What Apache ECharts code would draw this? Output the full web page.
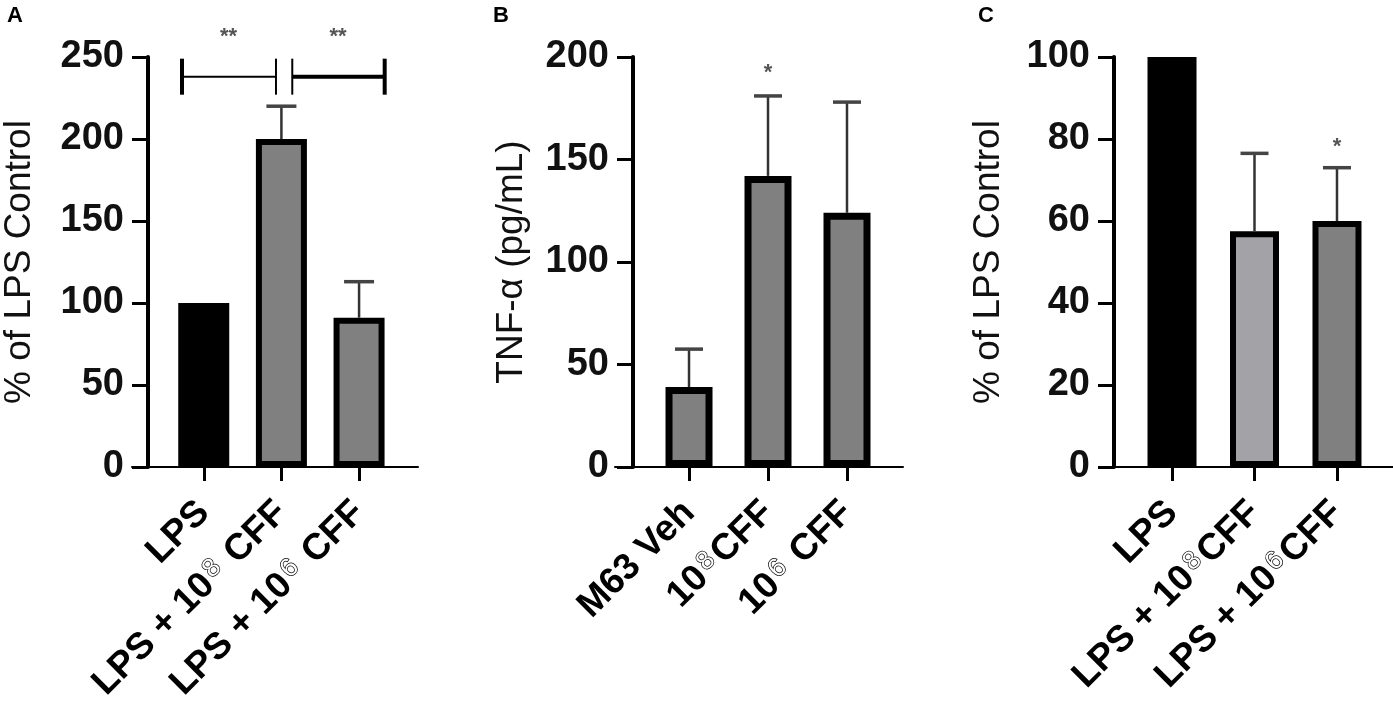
<!DOCTYPE html>
<html>
<head>
<meta charset="utf-8">
<script src="https://cdn.jsdelivr.net/npm/echarts@6/dist/echarts.min.js"></script>
<style>
html,body{margin:0;padding:0;background:#fff;}
#divChart{width:1393px;height:711px;}
</style>
</head>
<body>
<div id="divChart"></div>
<script>
// A: % of LPS control
var catsA = ['LPS', 'LPS + 10^8 CFF', 'LPS + 10^6 CFF'];
var meanA = [100, 200, 91];
var semA = [0, 20, 22];
// B: TNF-alpha
var catsB = ['M63 Veh', '10^8CFF', '10^6 CFF'];
var meanB = [39, 142, 124];
var semB = [18.5, 39, 54];
// C: % of LPS control
var catsC = ['LPS', 'LPS + 10^8CFF', 'LPS + 10^6CFF'];
var meanC = [100, 57.5, 60];
var semC = [0, 19, 13];

// significance brackets [from, to, level] and stars [x, level, text]
var bracketsA = [[-0.28, 0.93, 238], [1.14, 2.33, 238]];
var starsA = [[0.32, 262, '**'], [1.73, 262, '**']];
var starsB = [[1, 192, '*']];
var starsC = [[2, 78, '*']];

var fillA = ['#000000', '#808080', '#808080'];
var fillB = ['#808080', '#808080', '#808080'];
var fillC = ['#000000', '#a3a3a7', '#808080'];

var FONT = 'Liberation Sans, Arial, sans-serif';

/** 上标转换，例：'10^8CFF' */
function richLabel(s){
	var m = s.match(/^(.*)\^(\d)(.*)$/);
	if(!m) return '{n|' + s + '}';
	return '{n|' + m[1] + '}{s|' + m[2] + '}{n|' + m[3] + '}';
}

function xAxisOf(idx, cats, min, max){
	return {
		type: 'value', gridIndex: idx, min: min, max: max,
		splitLine: {show: false},
		axisLine: {onZero: false, lineStyle: {color: '#000', width: 2}},
		axisTick: {customValues: [0, 1, 2], length: 14, lineStyle: {color: '#000', width: 3}},
		axisLabel: {
			customValues: [0, 1, 2], rotate: 45, margin: 40,
			formatter: function(v){ return richLabel(cats[Math.round(v)]); },
			rich: {
				n: {fontSize: 37, fontWeight: 'bold', color: '#000', fontFamily: FONT},
				s: {fontSize: 26, color: '#fff', textBorderColor: '#000', textBorderWidth: 1.4,
					fontFamily: FONT, verticalAlign: 'top', padding: [0, 3, 0, 3]}
			}
		}
	};
}

function yAxisOf(idx, name, max, interval, offset, gap){
	return {
		type: 'value', gridIndex: idx, min: 0, max: max, interval: interval, offset: offset,
		name: name, nameLocation: 'middle', nameGap: gap,
		nameTextStyle: {fontSize: 37, color: '#111', fontFamily: FONT},
		splitLine: {show: false},
		axisLine: {show: true, onZero: false, lineStyle: {color: '#000', width: 4}},
		axisTick: {show: true, length: 16, lineStyle: {color: '#000', width: 3}},
		axisLabel: {fontSize: 38, fontWeight: 'bold', color: '#111', fontFamily: FONT, margin: 24}
	};
}

function barSeries(idx, means, fills, bw, bd){
	return {
		type: 'bar', xAxisIndex: idx, yAxisIndex: idx, barWidth: bw, silent: true,
		data: means.map(function(v, i){
			return {value: [i, v], itemStyle: {color: fills[i], borderColor: '#000', borderWidth: bd}};
		})
	};
}

function errSeries(idx, means, sems, capW){
	return {
		type: 'custom', xAxisIndex: idx, yAxisIndex: idx, z: 3, silent: true,
		data: means.map(function(v, i){ return [i, v, sems[i]]; }),
		renderItem: function(params, api){
			var sem = api.value(2);
			if(!sem) return null;
			var b = api.coord([api.value(0), api.value(1)]);
			var t = api.coord([api.value(0), api.value(1) + sem]);
			return {type: 'group', children: [
				{type: 'line', shape: {x1: b[0], y1: b[1], x2: t[0], y2: t[1]}, style: {stroke: '#333', lineWidth: 2.5}},
				{type: 'line', shape: {x1: t[0] - capW / 2, y1: t[1], x2: t[0] + capW / 2, y2: t[1]}, style: {stroke: '#444', lineWidth: 3.5}}
			]};
		}
	};
}

// 线宽：左端、横线、右端
var bracketWidths = [[4, 2, 2], [2, 4, 4]];
function bracketSeries(idx, list){
	return {
		type: 'custom', xAxisIndex: idx, yAxisIndex: idx, z: 3, silent: true,
		encode: {x: [0, 1], y: 2},
		data: list,
		renderItem: function(params, api){
			var p1 = api.coord([api.value(0), api.value(2)]);
			var p2 = api.coord([api.value(1), api.value(2)]);
			var w = bracketWidths[params.dataIndex];
			var h = 18;
			return {type: 'group', children: [
				{type: 'line', shape: {x1: p1[0], y1: p1[1] - h, x2: p1[0], y2: p1[1] + h}, style: {stroke: '#000', lineWidth: w[0]}},
				{type: 'line', shape: {x1: p1[0], y1: p1[1], x2: p2[0], y2: p2[1]}, style: {stroke: '#000', lineWidth: w[1]}},
				{type: 'line', shape: {x1: p2[0], y1: p2[1] - h, x2: p2[0], y2: p2[1] + h}, style: {stroke: '#000', lineWidth: w[2]}}
			]};
		}
	};
}

function starSeries(idx, list){
	return {
		type: 'custom', xAxisIndex: idx, yAxisIndex: idx, z: 4, silent: true,
		encode: {x: 0, y: 1},
		data: list.map(function(s){ return [s[0], s[1]]; }),
		renderItem: function(params, api){
			var p = api.coord([api.value(0), api.value(1)]);
			return {type: 'text', x: p[0], y: p[1], style: {
				text: list[params.dataIndex][2], fill: '#555', font: 'bold 22px ' + FONT,
				align: 'center', verticalAlign: 'middle'
			}};
		}
	};
}

var option = {
	backgroundColor: '#fff',
	animation: false,
	title: [
		{text: 'A', left: 7, top: 5, padding: 0, textStyle: {fontSize: 22, fontWeight: 'bold', color: '#000', fontFamily: FONT}},
		{text: 'B', left: 493, top: 5, padding: 0, textStyle: {fontSize: 22, fontWeight: 'bold', color: '#000', fontFamily: FONT}},
		{text: 'C', left: 978, top: 5, padding: 0, textStyle: {fontSize: 22, fontWeight: 'bold', color: '#000', fontFamily: FONT}}
	],
	grid: [
		{left: 127, top: 57, width: 291, height: 410},
		{left: 615, top: 57, width: 288, height: 410},
		{left: 1100, top: 57, width: 293, height: 410}
	],
	xAxis: [
		xAxisOf(0, catsA, -0.924, 2.759),
		xAxisOf(1, catsB, -0.937, 2.709),
		xAxisOf(2, catsC, -0.873, 2.679)
	],
	yAxis: [
		yAxisOf(0, '% of LPS Control', 250, 50, -16, 110),
		yAxisOf(1, 'TNF-α (pg/mL)', 200, 50, -18, 103),
		yAxisOf(2, '% of LPS Control', 100, 20, -14, 107)
	],
	series: [
		barSeries(0, meanA, fillA, 51, 6),
		errSeries(0, meanA, semA, 30),
		bracketSeries(0, bracketsA),
		starSeries(0, starsA),
		barSeries(1, meanB, fillB, 47, 7),
		errSeries(1, meanB, semB, 28),
		starSeries(1, starsB),
		barSeries(2, meanC, fillC, 49, 6),
		errSeries(2, meanC, semC, 28),
		starSeries(2, starsC)
	]
};

var divChart = echarts.init(document.getElementById('divChart'));
divChart.setOption(option);
</script>
</body>
</html>
